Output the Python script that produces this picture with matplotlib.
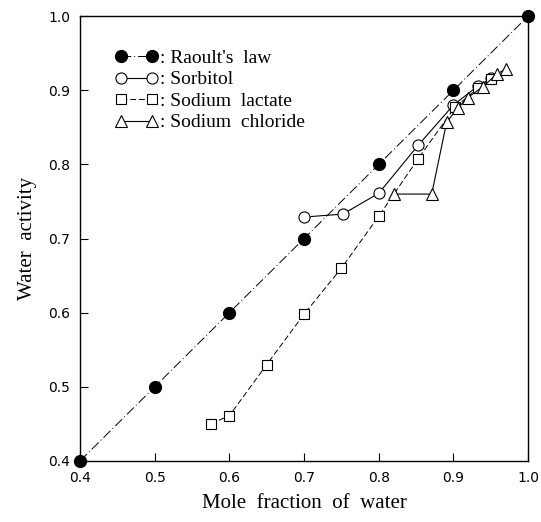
import numpy as np
import matplotlib.pyplot as plt

# mole fraction of water (x) and water activity (y)
raoult_x = [0.4, 0.5, 0.6, 0.7, 0.8, 0.9, 1.0]
raoult_y = [0.4, 0.5, 0.6, 0.7, 0.8, 0.9, 1.0]

sorbitol_x = [0.70, 0.752, 0.80, 0.853, 0.90, 0.933, 0.951]
sorbitol_y = [0.729, 0.733, 0.761, 0.826, 0.880, 0.906, 0.916]

lactate_x = [0.575, 0.60, 0.65, 0.70, 0.75, 0.80, 0.853, 0.902, 0.933, 0.951]
lactate_y = [0.450, 0.461, 0.530, 0.598, 0.660, 0.730, 0.808, 0.877, 0.903, 0.915]

chloride_x = [0.82, 0.871, 0.891, 0.906, 0.919, 0.940, 0.958, 0.971]
chloride_y = [0.760, 0.760, 0.857, 0.876, 0.890, 0.905, 0.922, 0.929]

xticks = [0.4, 0.5, 0.6, 0.7, 0.8, 0.9, 1.0]
yticks = [0.4, 0.5, 0.6, 0.7, 0.8, 0.9, 1.0]

fig = plt.figure(figsize=(5.41, 5.22), dpi=100)
ax = fig.add_axes([0.148, 0.117, 0.828, 0.852])

ax.plot(raoult_x, raoult_y, color="black", lw=0.7, ls=(0, (10, 3, 1, 3)),
        marker="o", ms=8.5, mfc="black", mec="black", label=": Raoult's  law",
        clip_on=False, zorder=3)
ax.plot(sorbitol_x, sorbitol_y, color="black", lw=0.8, ls="-",
        marker="o", ms=8, mfc="white", mec="black", mew=0.8,
        label=": Sorbitol", zorder=4)
ax.plot(lactate_x, lactate_y, color="black", lw=0.7, ls=(0, (6, 3)),
        marker="s", ms=7.5, mfc="white", mec="black", mew=0.8,
        label=": Sodium  lactate", zorder=4)
ax.plot(chloride_x, chloride_y, color="black", lw=0.8, ls="-",
        marker="^", ms=8, mfc="white", mec="black", mew=0.8,
        label=": Sodium  chloride", zorder=4)

ax.set_xlim(0.4, 1.0)
ax.set_ylim(0.4, 1.0)
ax.set_xticks(xticks)
ax.set_yticks(yticks)
ax.set_xticklabels([f"{t:.1f}" for t in xticks], family="DejaVu Sans", fontsize=10)
ax.set_yticklabels([f"{t:.1f}" for t in yticks], family="DejaVu Sans", fontsize=10)
ax.tick_params(direction="in", length=6, width=0.8, pad=7)
for s in ax.spines.values():
    s.set_linewidth(1.0)

ax.set_xlabel("Mole  fraction  of  water", family="Liberation Serif", fontsize=15, labelpad=7)
ax.set_ylabel("Water  activity", family="Liberation Serif", fontsize=15, labelpad=8)

leg = ax.legend(loc="upper left", bbox_to_anchor=(0.04, 0.965), numpoints=2,
                frameon=False, handlelength=2.2, handletextpad=0.1,
                labelspacing=0.2, prop={"family": "Liberation Serif", "size": 14})

fig.savefig("out.png", dpi=100)
